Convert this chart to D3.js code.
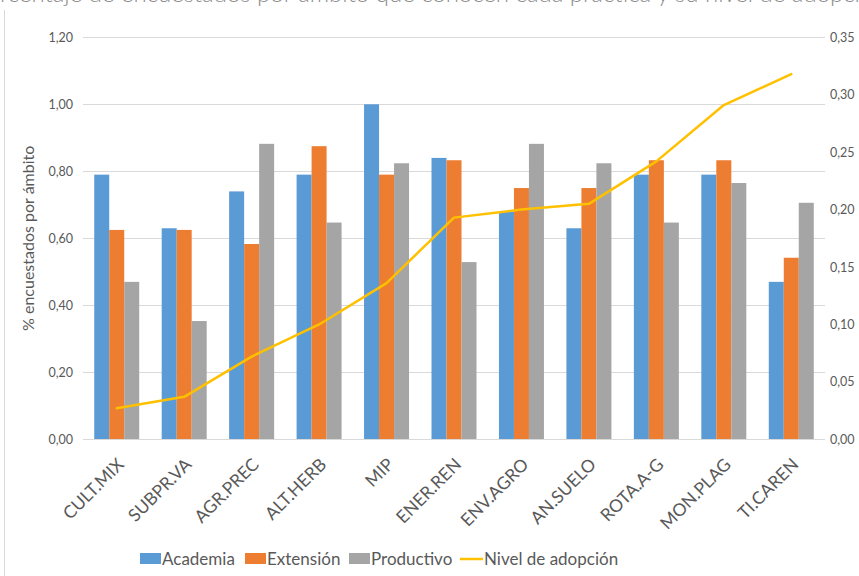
<!DOCTYPE html>
<html>
<head>
<meta charset="utf-8">
<script src="https://cdn.jsdelivr.net/npm/d3@7"></script>
<style>
  html, body { margin: 0; padding: 0; background: #fff; overflow: hidden; }
  svg { display: block; font-family: Lato, "Open Sans", sans-serif; }
</style>
</head>
<body>
<svg id="chart" width="859" height="576"></svg>
<script>
// Practices (categories)
const categories = ["CULT.MIX", "SUBPR.VA", "AGR.PREC", "ALT.HERB", "MIP", "ENER.REN",
                    "ENV.AGRO", "AN.SUELO", "ROTA.A-G", "MON.PLAG", "TI.CAREN"];

// Share of respondents per sector that know each practice
const academia   = [0.79, 0.63, 0.74, 0.79, 1.00, 0.84, 0.68, 0.63, 0.79, 0.79, 0.47];
const extension  = [0.625, 0.625, 0.583, 0.875, 0.79, 0.833, 0.75, 0.75, 0.833, 0.833, 0.542];
const productivo = [0.47, 0.353, 0.882, 0.647, 0.824, 0.529, 0.882, 0.824, 0.647, 0.765, 0.706];

// Adoption level (secondary axis)
const adopcion = [0.027, 0.037, 0.072, 0.100, 0.136, 0.193, 0.200, 0.205, 0.242, 0.291, 0.318];

// Axis ticks
const leftTicks  = [0, 0.2, 0.4, 0.6, 0.8, 1.0, 1.2];
const rightTicks = [0, 0.05, 0.10, 0.15, 0.20, 0.25, 0.30, 0.35];

const seriesNames  = ["Academia", "Extensión", "Productivo"];
const seriesValues = [academia, extension, productivo];
const seriesColors = ["#5B9BD5", "#ED7D31", "#A5A5A5"];
const lineName  = "Nivel de adopción";
const lineColor = "#FFC000";

const svg = d3.select("#chart");
const textColor = "#595959";
const fmt2 = v => d3.format(".2f")(v).replace(".", ",");

// Plot area
const plot = { left: 83, right: 825, top: 37.3, bottom: 439.3 };

const x = d3.scaleBand().domain(categories).range([plot.left, plot.right]).paddingInner(0).paddingOuter(0);
const groupWidth = x.bandwidth() * 0.667;
const xs = d3.scaleBand().domain(d3.range(3)).range([0, groupWidth]);
const yL = d3.scaleLinear().domain([0, 1.2]).range([plot.bottom, plot.top]);
const yR = d3.scaleLinear().domain([0, 0.35]).range([plot.bottom, plot.top]);

// Frame edge on the left
svg.append("line").attr("x1", 4.5).attr("x2", 4.5).attr("y1", 10).attr("y2", 576)
  .attr("stroke", "#d9d9d9").attr("stroke-width", 1);

// Title (runs off the top edge)
svg.append("text")
  .attr("x", 430).attr("y", 2)
  .attr("text-anchor", "middle")
  .attr("font-size", 24).attr("font-weight", 300).attr("fill", "#8c8c8c")
  .text("Porcentaje de encuestados por ámbito que conocen cada práctica y su nivel de adopción");

// Gridlines
svg.append("g").selectAll("line").data(leftTicks).join("line")
  .attr("x1", plot.left).attr("x2", plot.right)
  .attr("y1", d => Math.round(yL(d)) + 0.5).attr("y2", d => Math.round(yL(d)) + 0.5)
  .attr("stroke", "#d9d9d9").attr("stroke-width", 1);

// Left axis
const leftAxis = svg.append("g").attr("transform", `translate(${plot.left - 10},0)`)
  .call(d3.axisLeft(yL).tickValues(leftTicks).tickFormat(fmt2).tickSize(0).tickPadding(0));
leftAxis.select(".domain").remove();
leftAxis.selectAll("text").attr("fill", textColor).attr("font-size", 12.5)
  .attr("font-family", "Lato, sans-serif");

// Right axis
const rightAxis = svg.append("g").attr("transform", `translate(${plot.right + 5},0)`)
  .call(d3.axisRight(yR).tickValues(rightTicks).tickFormat(fmt2).tickSize(0).tickPadding(0));
rightAxis.select(".domain").remove();
rightAxis.selectAll("text").attr("fill", textColor).attr("font-size", 12.5)
  .attr("font-family", "Lato, sans-serif");

// Left axis title
svg.append("text")
  .attr("transform", `translate(34,${(plot.top + plot.bottom) / 2}) rotate(-90)`)
  .attr("text-anchor", "middle")
  .attr("font-size", 16).attr("fill", textColor)
  .text("% encuestados por ámbito");

// Bars
const bars = svg.append("g");
categories.forEach((c, i) => {
  const gx = x(c) + (x.bandwidth() - groupWidth) / 2;
  seriesValues.forEach((vals, s) => {
    bars.append("rect")
      .attr("x", gx + xs(s))
      .attr("width", xs.bandwidth())
      .attr("y", yL(vals[i]))
      .attr("height", plot.bottom - yL(vals[i]))
      .attr("fill", seriesColors[s]);
  });
});

// Category axis line
svg.append("line").attr("x1", plot.left).attr("x2", plot.right)
  .attr("y1", Math.round(plot.bottom) + 0.5).attr("y2", Math.round(plot.bottom) + 0.5)
  .attr("stroke", "#d9d9d9");

// Category labels, rotated
svg.append("g").selectAll("text").data(categories).join("text")
  .attr("transform", d => `translate(${x(d) + x.bandwidth() / 2 + 4},${plot.bottom + 22}) rotate(-45)`)
  .attr("text-anchor", "end")
  .attr("dy", "0.35em")
  .attr("font-size", 17.5).attr("fill", textColor)
  .text(d => d);

// Adoption line
const line = d3.line()
  .x((d, i) => x(categories[i]) + x.bandwidth() / 2)
  .y(d => yR(d));
svg.append("path").datum(adopcion)
  .attr("d", line)
  .attr("fill", "none")
  .attr("stroke", lineColor)
  .attr("stroke-width", 2.5)
  .attr("stroke-linejoin", "round")
  .attr("stroke-linecap", "round");

// Legend
const legend = svg.append("g").attr("font-size", 17).attr("fill", textColor);
const legendY = 559;
const legendItems = [
  { name: seriesNames[0], color: seriesColors[0], x: 140, type: "rect" },
  { name: seriesNames[1], color: seriesColors[1], x: 245, type: "rect" },
  { name: seriesNames[2], color: seriesColors[2], x: 349, type: "rect" },
  { name: lineName, color: lineColor, x: 460, type: "line" }
];
legendItems.forEach(it => {
  if (it.type === "rect") {
    legend.append("rect").attr("x", it.x).attr("y", legendY - 6).attr("width", 21).attr("height", 11)
      .attr("fill", it.color);
  } else {
    legend.append("line").attr("x1", it.x).attr("x2", it.x + 23)
      .attr("y1", legendY).attr("y2", legendY)
      .attr("stroke", it.color).attr("stroke-width", 2.5);
  }
  legend.append("text").attr("x", it.x + (it.type === "rect" ? 22 : 24)).attr("y", legendY)
    .attr("dy", "0.35em").attr("fill", textColor).text(it.name);
});
</script>
</body>
</html>
